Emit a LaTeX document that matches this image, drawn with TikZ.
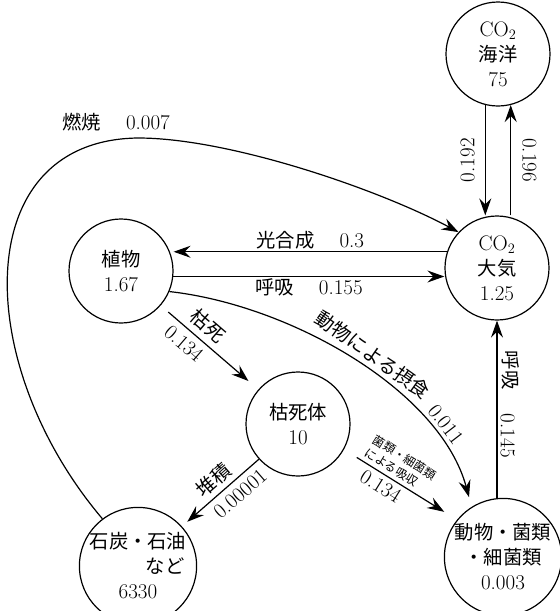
\documentclass[tikz,border=0pt]{standalone}
\usepackage{fontspec}
\newfontfamily\jp{Noto Sans CJK JP}[Scale=0.92]
\newcommand\jtxt[1]{{\jp #1}}
\usetikzlibrary{arrows.meta,calc}
\begin{document}
\begin{tikzpicture}[x=1pt,y=-1pt,
  circ/.style={circle,draw,line width=1.2pt,minimum size=104pt,inner sep=0pt,align=center,font=\fontsize{21}{25}\selectfont},
  arr/.style={line width=1.2pt,-{Stealth[length=17pt,width=12pt,inset=6pt]}},
  lab/.style={font=\fontsize{21}{24}\selectfont,inner sep=2pt},
  small/.style={font=\fontsize{13}{15}\selectfont,align=left,inner sep=4pt}]
\useasboundingbox (0,0) rectangle (560,611);
% nodes
\node[circ] (ocean) at (498,54) {CO$_2$\\\jtxt{海洋}\\75};
\node[circ] (air) at (497,268) {CO$_2$\\\jtxt{大気}\\1.25};
\node[circ] (plant) at (121,271) {\jtxt{植物}\\1.67};
\node[circ] (dead) at (298,424) {\jtxt{枯死体}\\10};
\node[circ] (coal) at (138,566) {\jtxt{石炭・石油}\\\hspace*{2.6em}\jtxt{など}\\6330};
\node[circ] (animal) at (503,557) {\jtxt{動物・菌類}\\\jtxt{・細菌類}\\0.003};
% ocean <-> air
\draw[arr] (ocean.-104) -- (ocean.-104 |- air.north)
  node[lab,midway,rotate=90,anchor=south,inner sep=10pt] (l192) {0.192};
\draw[arr] (ocean.-76 |- air.north) -- (ocean.-76)
  node[lab,midway,rotate=-90,anchor=south,inner sep=11pt] (l196) {0.196};
% photosynthesis / respiration
\draw[arr] (air.162) -- (air.162 -| plant.east)
  node[lab,midway,above] (lphoto) {\jtxt{光合成}\hspace{1.2em}0.3};
\draw[arr] (plant.-6) -- (plant.-6 -| air.west)
  node[lab,midway,below] (lresp) {\jtxt{呼吸}\hspace{1.2em}0.155};
% combustion
\draw[arr] (coal.127) .. controls (-28,365) and (-32,140) .. (138,138)
  node[lab,above=4pt,xshift=-22pt] (lburn) {\jtxt{燃焼}\hspace{1.2em}0.007}
  .. controls (230,138) and (380,190) .. (air.137);
% plant -> dead
\draw[arr,shorten <=10pt,shorten >=13pt] (plant.-41) -- (dead.139)
  node[lab,pos=0.38,sloped,above,inner sep=6pt] (ldie) {\jtxt{枯死}}
  node[lab,pos=0.33,sloped,below,inner sep=6pt] (ldie2) {0.134};
% plant -> animal (feeding)
\draw[arr,shorten >=10pt] (plant.-23) .. controls (290,305) and (440,390) .. (animal.122)
  node[lab,pos=0.53,sloped,above,inner sep=6pt] (lfeed) {\jtxt{動物による摂食}}
  node[lab,pos=0.775,sloped,above,inner sep=7pt] (lfeed2) {0.011};
% dead -> animal (absorption)
\draw[arr,shorten <=15pt,shorten >=15pt] (dead.-29) -- (animal.141)
  node[small,pos=0.42,sloped,above] (labs) {\jtxt{菌類・細菌類}\\\jtxt{による吸収}}
  node[lab,pos=0.38,sloped,below,inner sep=4pt] (labs2) {0.134};
% dead -> coal
\draw[arr,shorten >=7pt] (dead.-138) -- (coal.42)
  node[lab,pos=0.47,sloped,above,inner sep=5pt] (ldep) {\jtxt{堆積}}
  node[lab,pos=0.36,sloped,below,inner sep=6pt] (ldep2) {0.00001};
% animal -> air
\draw[arr] (animal.north -| air.south) -- (air.south)
  node[lab,pos=0.35,rotate=-90,anchor=south,inner sep=3pt] (l145) {0.145}
  node[lab,pos=0.72,rotate=-90,anchor=south,inner sep=4pt] (lresp2) {\jtxt{呼吸}};
\end{tikzpicture}
\end{document}
